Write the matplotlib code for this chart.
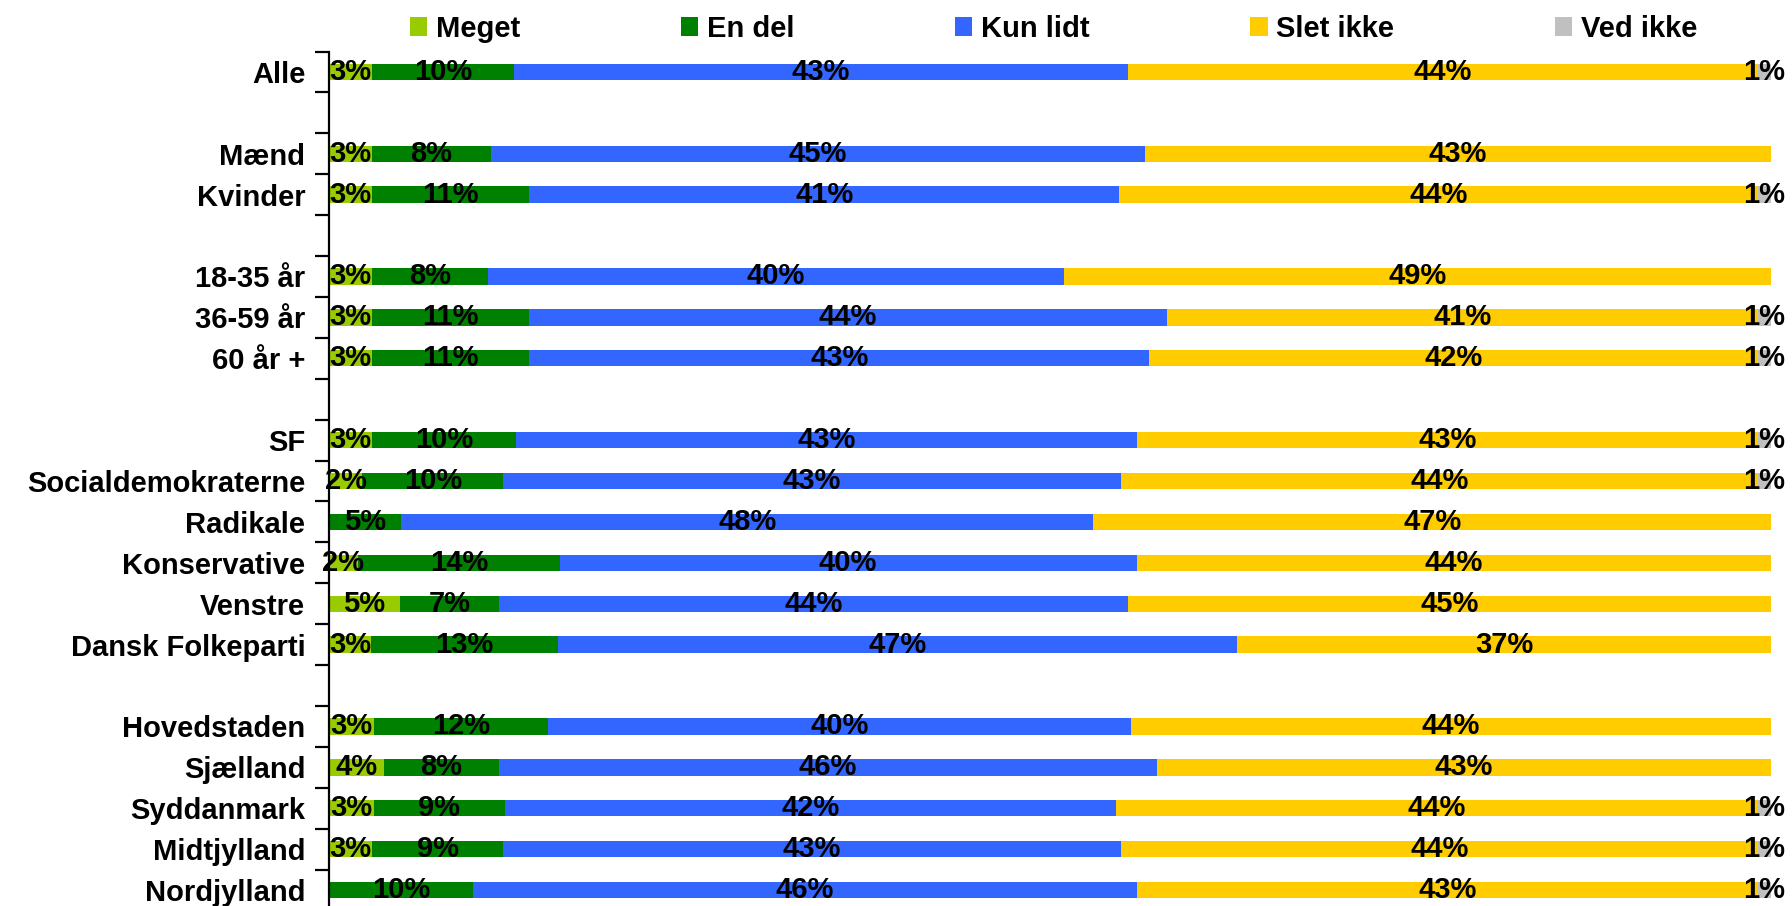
import numpy as np
import matplotlib
import matplotlib.pyplot as plt

matplotlib.use("agg")

plt.rcParams["font.family"] = ["Liberation Sans", "DejaVu Sans"]
plt.rcParams["font.weight"] = "bold"

W, H, DPI = 1792, 906, 100
FONT_SIZE = 21

categories = [
    "Alle", "", "Mænd", "Kvinder", "", "18-35 år", "36-59 år", "60 år +", "",
    "SF", "Socialdemokraterne", "Radikale", "Konservative", "Venstre",
    "Dansk Folkeparti", "", "Hovedstaden", "Sjælland", "Syddanmark",
    "Midtjylland", "Nordjylland",
]
series_names = ["Meget", "En del", "Kun lidt", "Slet ikke", "Ved ikke"]
colors = ["#99CC00", "#008000", "#3366FF", "#FFCC00", "#C0C0C0"]

# None = empty spacer row
meget = [3.0, None, 3.0, 3.0, None, 3.0, 3.0, 3.0, None,
         3.0, 2.3, 0.0, 2.0, 4.9, 2.9, None, 3.1, 3.8, 3.1, 3.0, 0.0]
en_del = [9.8, None, 8.2, 10.9, None, 8.0, 10.9, 10.9, None,
          10.0, 9.8, 5.0, 14.0, 6.9, 13.0, None, 12.1, 8.0, 9.1, 9.1, 10.0]
kun_lidt = [42.6, None, 45.4, 40.9, None, 40.0, 44.2, 43.0, None,
            43.0, 42.8, 48.0, 40.0, 43.6, 47.1, None, 40.4, 45.6, 42.4, 42.8, 46.0]
slet_ikke = [43.7, None, 43.4, 44.3, None, 49.0, 41.0, 42.2, None,
             43.1, 44.2, 47.0, 44.0, 44.6, 37.0, None, 44.4, 42.6, 44.4, 44.2, 43.1]
ved_ikke = [0.9, None, 0.0, 0.9, None, 0.0, 0.9, 0.9, None,
            0.9, 0.9, 0.0, 0.0, 0.0, 0.0, None, 0.0, 0.0, 1.0, 0.9, 0.9]

series = [meget, en_del, kun_lidt, slet_ikke, ved_ikke]

fig = plt.figure(figsize=(W / DPI, H / DPI), dpi=DPI)
ax = fig.add_axes([329 / W, 1 - 910.5 / H, (1771 - 329) / W, (910.5 - 51.5) / H])

n = len(categories)
y = np.arange(n)
data = np.array(series, dtype=float)
valid = ~np.isnan(data[0])
left = np.zeros(n)

handles = []
for name, color, vals in zip(series_names, colors, data):
    vals = np.nan_to_num(vals)
    bars = ax.barh(y[valid], vals[valid], left=left[valid], height=0.4,
                   color=color, label=name)
    labels = [f"{v:.0f}%" if v >= 0.5 else "" for v in vals[valid]]
    ax.bar_label(bars, labels=labels, label_type="center",
                 fontsize=FONT_SIZE, fontweight="bold", color="black")
    handles.append(bars)
    left += vals

ax.set_xlim(0, 100)
ax.set_ylim(n - 0.5, -0.5)

for side in ["top", "right", "bottom"]:
    ax.spines[side].set_visible(False)
ax.spines["left"].set_linewidth(1.6)
ax.set_xticks([])

# tick marks sit between rows, labels sit on rows
ax.set_yticks(np.arange(n + 1) - 0.5)
ax.set_yticklabels([])
ax.tick_params(axis="y", which="major", length=10, width=1.6, direction="out")
ax.set_yticks(y, minor=True)
ax.set_yticklabels(categories, minor=True, fontsize=FONT_SIZE, fontweight="bold")
ax.tick_params(axis="y", which="minor", length=0, pad=17)

fig.legend(handles=handles, loc="center", bbox_to_anchor=(0.588, 0.968),
           ncol=5, frameon=False, fontsize=FONT_SIZE,
           handlelength=0.6, handleheight=0.65, handletextpad=0.3,
           columnspacing=5.5)

fig.savefig("out.png", dpi=DPI)
